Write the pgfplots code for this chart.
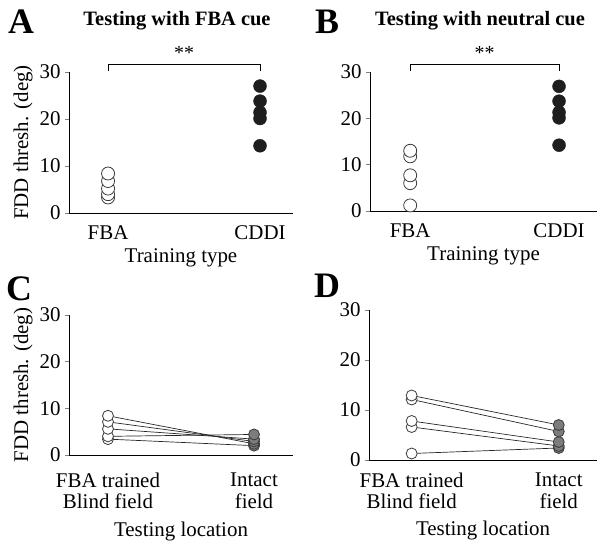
\documentclass[border=0pt]{standalone}
\usepackage{fontspec}
\setmainfont{Liberation Serif}
\usepackage{pgfplots}
\pgfplotsset{compat=1.18}
\definecolor{dotblack}{HTML}{1E1E1E}
\definecolor{intactgray}{HTML}{7C7C7C}
\definecolor{ringgray}{HTML}{3A3A3A}
\pgfplotsset{
  panel/.style={
    scale only axis,
    anchor=south west,
    axis x line=bottom, axis y line=left,
    axis line style={-, line width=0.8pt},
    ymin=0, ymax=30, ytick={0,10,20,30},
    xtick={0,1},
    xtick style={draw=none},
    ytick style={line width=0.8pt},
    tick align=outside,
    major tick length=4bp,
    /pgf/number format/assume math mode=true,
    tick label style={font=\fontsize{21}{22}\selectfont},
    yticklabel style={xshift=-1bp},
    xticklabel style={yshift=-5bp},
    label style={font=\fontsize{21}{23}\selectfont},
    xlabel style={yshift=-2bp},
    clip=false,
  },
  openmark/.style={only marks, mark=*, mark size=6.5bp, mark options={fill=white, draw=ringgray, line width=0.8pt}},
  fullmark/.style={only marks, mark=*, mark size=6.5bp, mark options={fill=dotblack, draw=dotblack}},
  openmarksm/.style={only marks, mark=*, mark size=5.5bp, mark options={fill=white, draw=ringgray, line width=0.8pt}},
  graymarksm/.style={only marks, mark=*, mark size=5.5bp, mark options={fill=intactgray, draw=ringgray, line width=0.8pt}},
  pairline/.style={no marks, draw=black!85, line width=0.7pt},
}
\begin{document}
\begin{tikzpicture}[x=1bp,y=1bp]
\path[use as bounding box] (0,0) rectangle (604,544);

% Panel A
\begin{axis}[panel, at={(69bp,331bp)}, width=224bp, height=141bp,
  xmin=-0.257, xmax=1.217,
  xticklabels={FBA,CDDI},
  xlabel={Training type},
  ylabel={FDD thresh. (deg)}]
\addplot[openmark] coordinates {(0,3.3) (0,4.0) (0,5.2) (0,6.8) (0,8.4)};
\addplot[fullmark] coordinates {(1,14.3) (1,20.1) (1,21.4) (1,23.8) (1,27.0)};
\draw[line width=0.7pt] (axis cs:0,30.2) -- (axis cs:0,31.6) -- (axis cs:1,31.6) -- (axis cs:1,30.2);
\node[font=\fontsize{20}{22}\selectfont] at (axis cs:0.5,34.0) {**};
\end{axis}

% Panel B
\begin{axis}[panel, at={(370bp,333bp)}, width=227bp, height=139bp,
  xmin=-0.27, xmax=1.255,
  xticklabels={FBA,CDDI},
  xlabel={Training type}]
\addplot[openmark] coordinates {(0,1.2) (0,6.0) (0,7.7) (0,11.8) (0,13.0)};
\addplot[fullmark] coordinates {(1,14.2) (1,20.1) (1,21.3) (1,23.7) (1,26.9)};
\draw[line width=0.7pt] (axis cs:0,30.2) -- (axis cs:0,31.6) -- (axis cs:1,31.6) -- (axis cs:1,30.2);
\node[font=\fontsize{20}{22}\selectfont] at (axis cs:0.5,34.0) {**};
\end{axis}

% Panel C
\begin{axis}[panel, at={(69bp,89bp)}, width=224bp, height=140bp,
  xmin=-0.267, xmax=1.267,
  xticklabels={{FBA trained\\Blind field},{Intact\\field}},
  xticklabel style={align=center, yshift=-5bp},
  xlabel={Testing location},
  xlabel style={yshift=-4bp},
  ylabel={FDD thresh. (deg)}]
\addplot[pairline] coordinates {(0,8.4) (1,2.4)};
\addplot[pairline] coordinates {(0,7.1) (1,2.9)};
\addplot[pairline] coordinates {(0,5.6) (1,3.4)};
\addplot[pairline] coordinates {(0,4.0) (1,4.4)};
\addplot[pairline] coordinates {(0,3.4) (1,2.0)};
\addplot[openmarksm] coordinates {(0,3.4) (0,4.0) (0,5.6) (0,7.1) (0,8.4)};
\addplot[graymarksm] coordinates {(1,2.0) (1,2.4) (1,2.9) (1,3.4) (1,4.4)};
\end{axis}

% Panel D
\begin{axis}[panel, at={(369bp,84bp)}, width=228bp, height=150bp,
  xmin=-0.29, xmax=1.26,
  xticklabels={{FBA trained\\Blind field},{Intact\\field}},
  xticklabel style={align=center},
  xlabel={Testing location},
  xlabel style={yshift=-3bp}]
\addplot[pairline] coordinates {(0,12.9) (1,7.0)};
\addplot[pairline] coordinates {(0,12.1) (1,5.7)};
\addplot[pairline] coordinates {(0,7.8) (1,3.6)};
\addplot[pairline] coordinates {(0,6.6) (1,2.8)};
\addplot[pairline] coordinates {(0,1.3) (1,2.4)};
\addplot[openmarksm] coordinates {(0,1.3) (0,6.6) (0,7.8) (0,12.1) (0,12.9)};
\addplot[graymarksm] coordinates {(1,2.4) (1,2.8) (1,3.6) (1,5.7) (1,7.0)};
\end{axis}

% Titles and panel letters
\node[font=\bfseries\fontsize{20.5}{22}\selectfont] at (177,523) {Testing with FBA cue};
\node[font=\bfseries\fontsize{20.5}{22}\selectfont] at (480,523) {Testing with neutral cue};
\node[font=\bfseries\fontsize{36}{38}\selectfont] at (21,522) {A};
\node[font=\bfseries\fontsize{36}{38}\selectfont] at (327,522) {B};
\node[font=\bfseries\fontsize{36}{38}\selectfont] at (19,255) {C};
\node[font=\bfseries\fontsize{36}{38}\selectfont] at (327,258) {D};
\end{tikzpicture}
\end{document}
